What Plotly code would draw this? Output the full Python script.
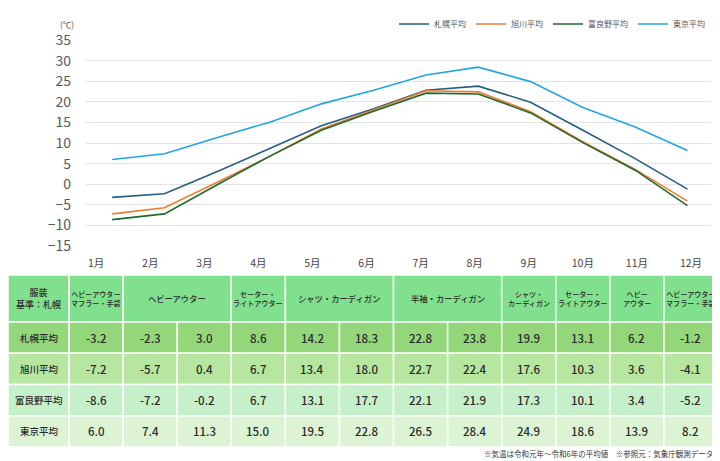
"""
Monthly average temperatures (Sapporo / Asahikawa / Furano / Tokyo)
line chart on top, clothing guide table underneath
"""

import plotly.graph_objects as go

MONTHS = ["1月", "2月", "3月", "4月", "5月", "6月", "7月", "8月", "9月", "10月", "11月", "12月"]

sapporo   = [-3.2, -2.3, 3.0, 8.6, 14.2, 18.3, 22.8, 23.8, 19.9, 13.1, 6.2, -1.2]
asahikawa = [-7.2, -5.7, 0.4, 6.7, 13.4, 18.0, 22.7, 22.4, 17.6, 10.3, 3.6, -4.1]
furano    = [-8.6, -7.2, -0.2, 6.7, 13.1, 17.7, 22.1, 21.9, 17.3, 10.1, 3.4, -5.2]
tokyo     = [6.0, 7.4, 11.3, 15.0, 19.5, 22.8, 26.5, 28.4, 24.9, 18.6, 13.9, 8.2]

CITY_NAMES  = ["札幌平均", "旭川平均", "富良野平均", "東京平均"]
LINE_COLORS = ["#255e85", "#ed7d31", "#1f6b2b", "#22a6e2"]
ROW_COLORS  = ["#93d77a", "#b6e6a0", "#c6f0c9", "#ddf4d4"]
HEAD_COLOR  = "#80e08d"

# clothing guide: (first month idx, last month idx + 1, label)
CLOTHES = [
    (0, 1,   "ヘビーアウター<br>マフラー・手袋"),
    (1, 3,   "ヘビーアウター"),
    (3, 4,   "セーター・<br>ライトアウター"),
    (4, 6,   "シャツ・カーディガン"),
    (6, 8,   "半袖・カーディガン"),
    (8, 9,   "シャツ・<br>カーディガン"),
    (9, 10,  "セーター・<br>ライトアウター"),
    (10, 11, "ヘビー<br>アウター"),
    (11, 12, "ヘビーアウター<br>マフラー・手袋"),
]

FONT = "Noto Sans CJK JP"
# the page body has an 8px margin, so the figure is 8px smaller each way
PAD = 8
W, H = 720 - PAD, 461 - PAD

def px(x):   # window pixel -> paper x
    return max(0.0, (x - PAD) / W)

def py(y):   # window pixel (from top) -> paper y
    return min(1.0, 1 - (y - PAD) / H)

series = [sapporo, asahikawa, furano, tokyo]

fig = go.Figure()

# ── temperature lines ─────────────────────────────────────────────────────────
for name, vals, col in zip(CITY_NAMES, series, LINE_COLORS):
    fig.add_trace(go.Scatter(
        x=list(range(12)), y=vals,
        name=name, mode="lines",
        line=dict(color=col, width=1.6),
        xaxis="x", yaxis="y",
    ))

# ── table (drawn on its own axes: x = month columns, y = rows) ────────────────
LABEL_W = 1.13   # first column is a bit wider than a month column
shapes = []
annos = []

def cell(x0, x1, y0, y1, color, text, size, weight=500):
    shapes.append(dict(
        type="rect", xref="x2", yref="y2",
        x0=x0, x1=x1, y0=y0, y1=y1,
        fillcolor=color, line=dict(color="white", width=1.5), layer="below",
    ))
    annos.append(dict(
        xref="x2", yref="y2", x=(x0 + x1) / 2, y=(y0 + y1) / 2,
        text=text, showarrow=False,
        font=dict(family=FONT, size=size, color="#2b2b2b", weight=weight),
        align="center",
    ))

# header row
cell(-LABEL_W, 0, -1.5, 0, HEAD_COLOR, "服装<br>基準：札幌", 9)
for a, b, label in CLOTHES:
    cell(a, b, -1.5, 0, HEAD_COLOR, label, 7.1 if "<br>" in label else 8.3)

# data rows
for r, (name, vals) in enumerate(zip(CITY_NAMES, series)):
    cell(-LABEL_W, 0, r, r + 1, ROW_COLORS[r], name, 9.5)
    for m, v in enumerate(vals):
        cell(m, m + 1, r, r + 1, ROW_COLORS[r], f"{v:.1f}", 11.5)

# unit + footnote
annos.append(dict(
    xref="paper", yref="paper", x=px(67), y=py(24),
    text="(℃)", showarrow=False, xanchor="center", yanchor="middle",
    font=dict(family=FONT, size=8.5, color="#555555"),
))
annos.append(dict(
    xref="paper", yref="paper", x=px(715), y=py(453),
    text="※気温は令和元年～令和6年の平均値　※参照元：気象庁観測データ",
    showarrow=False, xanchor="right", yanchor="middle",
    font=dict(family=FONT, size=7.5, color="#333333"),
))

# ── layout ────────────────────────────────────────────────────────────────────
fig.update_layout(
    width=W, height=H,
    margin=dict(l=0, r=0, t=0, b=0, autoexpand=False),
    paper_bgcolor="white", plot_bgcolor="white",
    font=dict(family=FONT, color="#555555"),
    showlegend=True,
    legend=dict(
        orientation="h", x=px(710), xanchor="right", y=py(24), yanchor="middle",
        font=dict(family=FONT, size=8, color="#555555"),
        itemwidth=30, bgcolor="rgba(0,0,0,0)",
    ),
    xaxis=dict(
        domain=[px(86), px(711)], range=[-0.5, 11.45],
        showgrid=False, zeroline=False, showticklabels=False, fixedrange=True,
    ),
    yaxis=dict(
        domain=[py(246), py(40)], range=[-15, 35],
        tickvals=list(range(-15, 36, 5)),
        gridcolor="#e3e3e3", gridwidth=1, zeroline=False, showline=False,
        tickfont=dict(family=FONT, size=14, color="#595959"),
        ticklabelstandoff=14,
    ),
    xaxis2=dict(
        domain=[px(3), px(718)], range=[-LABEL_W, 12], anchor="y2", side="top",
        tickvals=[m + 0.5 for m in range(12)], ticktext=MONTHS,
        showgrid=False, zeroline=False, showline=False,
        tickfont=dict(family=FONT, size=10.5, color="#444444"),
        ticklabelstandoff=5,
    ),
    yaxis2=dict(
        domain=[py(447), py(275)], range=[4, -1.5], anchor="x2",
        showgrid=False, zeroline=False, showticklabels=False,
    ),
    shapes=shapes,
    annotations=annos,
)

fig.write_html("out.html")
